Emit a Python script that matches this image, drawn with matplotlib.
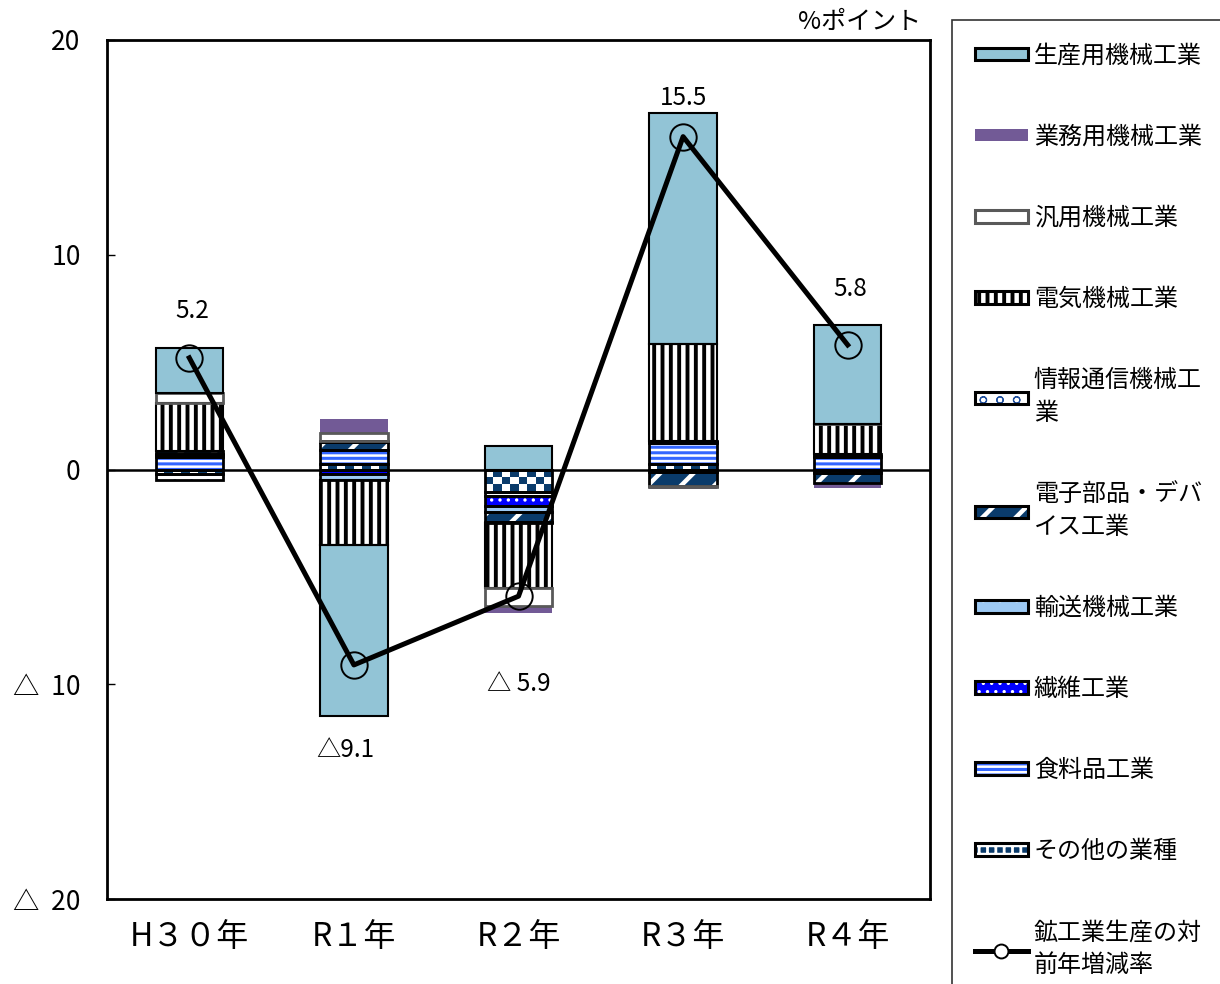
# -*- coding: utf-8 -*-

#%% importing packages
import numpy as np
import matplotlib
matplotlib.use("Agg")
import matplotlib.pyplot as plt
from matplotlib.patches import Patch, Rectangle
from matplotlib.lines import Line2D
from matplotlib.colors import ListedColormap

plt.rcParams['font.family'] = ['Noto Sans CJK JP', 'DejaVu Sans']

#%% data (contribution by industry, %points)
years = ['H３０年', 'R１年', 'R２年', 'R３年', 'R４年']

seisanyo = [2.1, -8.0, 1.1, 10.73, 4.62]      # 生産用機械工業
gyomuyo = [0.0, 0.62, -0.35, -0.12, -0.2]     # 業務用機械工業
hanyo = [0.47, 0.36, -0.85, -0.05, 0.0]       # 汎用機械工業
denki = [2.2, -3.0, -3.0, 4.5, 1.4]           # 電気機械工業
joho = [-0.3, 0.05, -0.05, 0.05, 0.0]         # 情報通信機械工業
denshi = [0.15, 0.4, -0.45, -0.65, -0.5]      # 電子部品・デバイス工業
yuso = [0.05, -0.3, -0.3, -0.1, 0.05]         # 輸送機械工業
seni = [0.08, -0.2, -0.45, 0.05, 0.05]        # 繊維工業
shokuryo = [0.6, 0.65, -0.2, 1.0, 0.6]        # 食料品工業
sonota = [-0.2, 0.25, -1.05, 0.25, -0.15]     # その他の業種

total = [5.2, -9.1, -5.9, 15.5, 5.8]          # 鉱工業生産の対前年増減率
total_labels = ['5.2', '△9.1', '△ 5.9', '15.5', '5.8']
label_offsets = [(2, 34), (-6, -61), (0, -63), (0, 28), (2, 40)]  # points

#%% series styles (bottom of stack first)
NAVY = '#0A3B6B'
series = [
    # label, values, face, hatch, hatch color, hatch lw, edge color, edge lw
    ('その他の業種', sonota, 'checker', None, None, 0, 'black', 2.0),
    ('食料品工業', shokuryo, 'white', '---', '#3366FF', 2.2, 'black', 2.0),
    ('繊維工業', seni, '#0000FF', '..', 'white', 1.2, 'black', 2.0),
    ('輸送機械工業', yuso, '#9DC9F3', '.', 'white', 1.0, 'black', 2.0),
    ('電子部品・デバ\nイス工業', denshi, NAVY, '/', 'white', 3.2, 'black', 2.0),
    ('情報通信機械工\n業', joho, 'white', 'o', '#1F4E9C', 0.8, 'black', 2.0),
    ('電気機械工業', denki, 'white', '||', 'black', 2.8, 'black', 1.5),
    ('汎用機械工業', hanyo, 'white', None, None, 0, '#595959', 2.0),
    ('業務用機械工業', gyomuyo, '#725A96', None, None, 0, '#725A96', 0.0),
    ('生産用機械工業', seisanyo, '#92C4D6', None, None, 0, 'black', 1.5),
]
hatch_lw = {s[3]: s[5] for s in series if s[3]}
hatch_lw['++'] = 2.0

#%% plot
fig = plt.figure(figsize=(12.2, 9.84), dpi=100)
ax = fig.add_axes([107/1220, 1-899/984, (930-107)/1220, (899-40)/984])

x = np.arange(len(years))
width = 0.41
pos_bottom = np.zeros(len(years))
neg_bottom = np.zeros(len(years))
checker_cmap = ListedColormap(['white', NAVY])

for label, vals, fc, hatch, hcol, hlw, ec, elw in series:
    vals = np.array(vals, dtype=float)
    bottoms = np.where(vals >= 0, pos_bottom, neg_bottom)
    if fc == 'checker':
        bars = ax.bar(x, vals, width, bottom=bottoms, color='white', linewidth=0, zorder=2)
        for p in bars:
            h = p.get_height()
            if abs(h) < 1e-9:
                continue
            x0, y0 = p.get_x(), p.get_y()
            nx = 8
            ny = max(1, int(round(abs(h) / 0.37)))
            board = np.indices((ny, nx)).sum(axis=0) % 2
            im = ax.imshow(board, cmap=checker_cmap, extent=(x0, x0 + p.get_width(), y0, y0 + h),
                           aspect='auto', interpolation='nearest', zorder=2.1, origin='lower')
            im.set_clip_path(p)
    else:
        with plt.rc_context({'hatch.linewidth': max(hlw, 0.1)}):
            bars = ax.bar(x, vals, width, bottom=bottoms, color=fc,
                          edgecolor=hcol if hatch else fc, linewidth=0, hatch=hatch, zorder=2)
        if hatch:
            for p in bars:
                if hasattr(p, 'set_hatch_linewidth'):
                    p.set_hatch_linewidth(hlw)
    if elw > 0:
        ax.bar(x, vals, width, bottom=bottoms, fill=False, edgecolor=ec, linewidth=elw, zorder=3)
    pos_bottom = pos_bottom + np.where(vals > 0, vals, 0)
    neg_bottom = neg_bottom + np.where(vals < 0, vals, 0)

ax.axhline(0, color='black', linewidth=1.8, zorder=4)

ax.plot(x, total, color='black', linewidth=3.6, marker='o', markersize=19,
        markerfacecolor='none', markeredgecolor='black', markeredgewidth=1.4, zorder=5)

for xi, yi, txt, off in zip(x, total, total_labels, label_offsets):
    ax.annotate(txt, (xi, yi), xytext=off, textcoords='offset points',
                ha='center', va='center', fontsize=17.5, zorder=6)

ax.set_xlim(-0.5, len(years) - 0.5)
ax.set_ylim(-20, 20)
ax.set_yticks([-20, -10, 0, 10, 20])
ax.set_yticklabels(['△  20', '△  10', '0', '10', '20'], fontsize=19)
ax.set_xticks(x)
ax.set_xticklabels(years, fontsize=23)
ax.tick_params(axis='y', direction='in', length=6, width=1, pad=19)
ax.tick_params(axis='x', length=0, pad=16)
for s in ax.spines.values():
    s.set_linewidth(2)
    s.set_color('black')

fig.text(921/1220, 1-22/984, '%ポイント', ha='right', va='center', fontsize=18)

#%% legend (top of stack first)
handles = []
labels = []
for label, vals, fc, hatch, hcol, hlw, ec, elw in series[::-1]:
    if fc == 'checker':
        fill = Patch(facecolor=NAVY, edgecolor='white', hatch='++', linewidth=0)
    else:
        fill = Patch(facecolor=fc, edgecolor=hcol if hatch else fc, hatch=hatch, linewidth=0)
    outline = Patch(facecolor='none', edgecolor=ec if elw > 0 else fc, linewidth=2.2 if elw > 0 else 0)
    handles.append((fill, outline))
    labels.append(label)
handles.append(Line2D([], [], color='black', linewidth=3.6, marker='o', markersize=10,
                      markerfacecolor='white', markeredgecolor='black', markeredgewidth=1.4))
labels.append('鉱工業生産の対\n前年増減率')

leg = fig.legend(handles, labels, loc='upper left', bbox_to_anchor=(952/1220, 1-20/984),
                 bbox_transform=fig.transFigure, fontsize=17.3, frameon=True, fancybox=False,
                 edgecolor='black', handlelength=2.2, handleheight=0.42, handletextpad=0.25,
                 labelspacing=2.29, borderpad=0.95, borderaxespad=0)
leg.get_frame().set_linewidth(1.2)
for t in leg.get_texts():
    t.set_linespacing(1.35)
for r in leg.findobj(Rectangle):
    if r.get_hatch() and hasattr(r, 'set_hatch_linewidth'):
        r.set_hatch_linewidth(hatch_lw.get(r.get_hatch(), 1.0))

fig.savefig('out.png', dpi=100)
